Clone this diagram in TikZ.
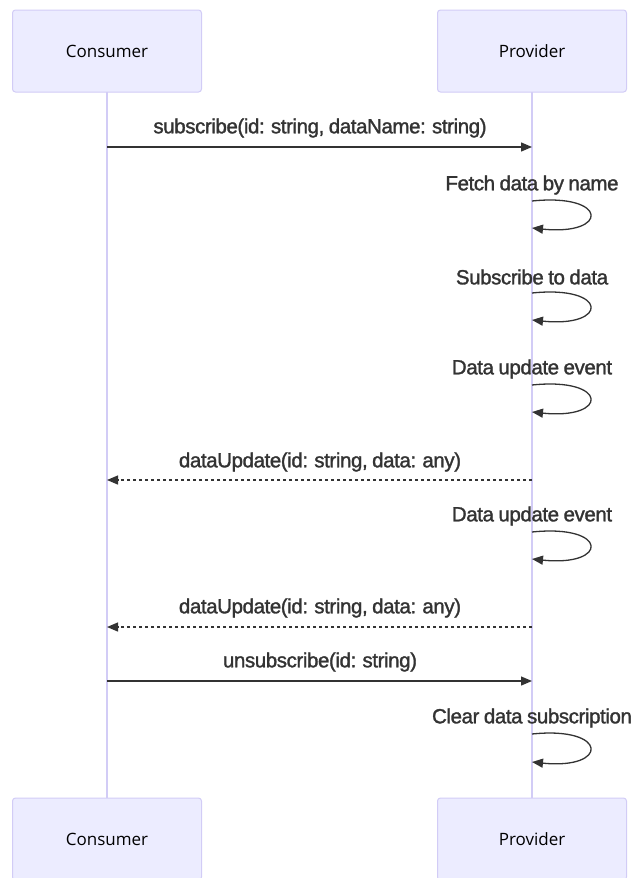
\documentclass[tikz,border=0pt]{standalone}
\usepackage{fontspec}
\setmainfont{Liberation Sans}[LetterSpace=-2,WordSpace=0.85,FakeBold=1.5]
\newfontfamily\actorfont{Open Sans}
\usetikzlibrary{arrows.meta}
\definecolor{actorfill}{HTML}{ECECFF}
\definecolor{actorline}{HTML}{D2CCF6}
\definecolor{msgcolor}{HTML}{333333}

\begin{document}
\begin{tikzpicture}[x=1pt,y=-1pt,
  actor/.style={draw=actorline,fill=actorfill,rounded corners=3pt,line width=1pt,
    minimum width=189pt,minimum height=82pt,font=\actorfont\fontsize{17}{20}\selectfont},
  msg/.style={font=\fontsize{20.5}{24}\selectfont,text=msgcolor},
  call/.style={draw=msgcolor,line width=1.3pt,-{Triangle[length=11pt,width=9pt]}},
  reply/.style={call,dash pattern=on 3pt off 3pt}]
\useasboundingbox (0,0) rectangle (636,878);
% lifelines
\draw[actorline,line width=1.6pt] (107,92) -- (107,800);
\draw[actorline,line width=1.6pt] (532,92) -- (532,800);
% actors
\node[actor] (consumer) at (107,51) {Consumer};
\node[actor] (provider) at (532,51) {Provider};
\node[actor] (consumerB) at (107,839) {Consumer};
\node[actor] (providerB) at (532,839) {Provider};
% messages
\coordinate (c1) at (107,147); \coordinate (p1) at (532,147);
\node[msg] (m1) at (320,128) {subscribe(id: string, dataName: string)};
\draw[call] (c1) -- (p1);

\node[msg] (s1) at (532,185) {Fetch data by name};
\coordinate (a1) at (532,201); \coordinate (b1) at (532,228);
\draw[call] (a1) .. controls (609,193) and (609,236) .. (b1);

\node[msg] (s2) at (532,277) {Subscribe to data};
\coordinate (a2) at (532,293); \coordinate (b2) at (532,320);
\draw[call] (a2) .. controls (609,285) and (609,328) .. (b2);

\node[msg] (s3) at (532,369) {Data update event};
\coordinate (a3) at (532,385); \coordinate (b3) at (532,412);
\draw[call] (a3) .. controls (609,377) and (609,420) .. (b3);

\coordinate (p2) at (532,480); \coordinate (c2) at (107,480);
\node[msg] (m2) at (320,462) {dataUpdate(id: string, data: any)};
\draw[reply] (p2) -- (c2);

\node[msg] (s4) at (532,516) {Data update event};
\coordinate (a4) at (532,532); \coordinate (b4) at (532,559);
\draw[call] (a4) .. controls (609,524) and (609,567) .. (b4);

\coordinate (p3) at (532,627); \coordinate (c3) at (107,627);
\node[msg] (m3) at (320,608) {dataUpdate(id: string, data: any)};
\draw[reply] (p3) -- (c3);

\coordinate (c4) at (107,681); \coordinate (p4) at (532,681);
\node[msg] (m4) at (320,662) {unsubscribe(id: string)};
\draw[call] (c4) -- (p4);

\node[msg] (s5) at (532,718) {Clear data subscription};
\coordinate (a5) at (532,734); \coordinate (b5) at (532,762);
\draw[call] (a5) .. controls (609,726) and (609,770) .. (b5);
\end{tikzpicture}
\end{document}
